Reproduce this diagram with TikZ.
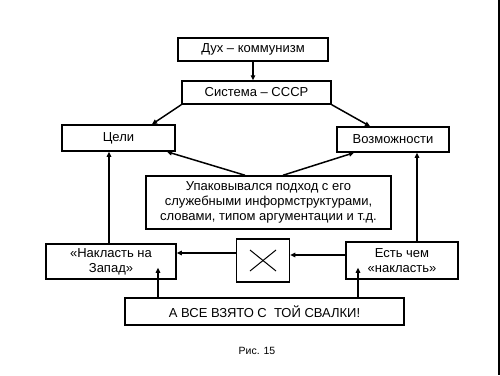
\documentclass[tikz,border=0pt]{standalone}
\usepackage{fontspec}
\setmainfont{Liberation Sans}
\usetikzlibrary{arrows.meta, calc}

\begin{document}
\begin{tikzpicture}[x=1pt, y=-1pt, line width=1.5pt,
    box/.style={draw, inner sep=0pt, align=center, font=\fontsize{13}{15}\selectfont},
    link/.style={-{Triangle[length=5pt, width=4.5pt]}}]

    % --- PAGE FRAME ---
    \useasboundingbox (0,0) rectangle (500,375);
    \fill (498,0) rectangle (500,375);

    % --- TOP CHAIN ---
    \node[box, minimum width=150pt, minimum height=23pt] (duh) at (253,49.5) {Дух – коммунизм};
    \node[box, minimum width=149pt, minimum height=23pt] (sistema) at (256.5,92.5) {Система – СССР};

    % --- SECOND ROW ---
    \node[box, minimum width=113pt, minimum height=26pt] (celi) at (118.5,138) {Цели};
    \node[box, minimum width=112pt, minimum height=25pt] (vozm) at (393,139.5) {Возможности};

    % --- MIDDLE BOX ---
    \node[box, minimum width=245pt, minimum height=53pt] (upak) at (268.5,202.5)
        {Упаковывался подход с его\\служебными информструктурами,\\словами, типом аргументации и т.д.};

    % --- BOTTOM ROW ---
    \node[box, minimum width=130pt, minimum height=35pt] (zapad) at (111,261.5) {«Накласть на\\Запад»};
    \node[box, minimum width=53pt, minimum height=43pt] (cross) at (263,260.5) {};
    \node[box, minimum width=112pt, minimum height=37pt] (est) at (402,260.5) {Есть чем\\«накласть»};
    \node[box, minimum width=279pt, minimum height=27pt] (vse) at (264.5,311.5) {А ВСЕ ВЗЯТО С \ ТОЙ СВАЛКИ!};

    % --- CAPTION ---
    \node[font=\fontsize{10.5}{12}\selectfont] (ris) at (257,351) {Рис. 15};

    % --- CROSS MARK ---
    \draw[line width=1pt] ($(cross.center)+(-13,-10.5)$) -- ($(cross.center)+(13,10.5)$);
    \draw[line width=1pt] ($(cross.center)+(-13,10.5)$) -- ($(cross.center)+(13,-10.5)$);

    % --- ARROWS ---
    \draw[link] (duh.south) -- (duh.south |- sistema.north);
    \draw[link] (sistema.south west) -- (celi.north -| 152,0);
    \draw[link] (sistema.south east) -- (vozm.north -| 370,0);
    \draw[link] (upak.north -| 245,0) -- (celi.south -| 167,0);
    \draw[link] (upak.north -| 283,0) -- (vozm.south -| 354,0);
    \draw[link] (zapad.north -| 109,0) -- (celi.south -| 109,0);
    \draw[link] (est.north -| 417,0) -- (vozm.south -| 417,0);
    \draw[link] (est.west |- 0,255) -- (cross.east |- 0,255);
    \draw[link] (cross.west |- 0,253) -- (zapad.east |- 0,253);
    \draw[link] (vse.north -| 158,0) -- ($(zapad.south -| 158,0)+(0,-12)$);
    \draw[link] (vse.north -| 358,0) -- ($(est.south -| 358,0)+(0,-12)$);

\end{tikzpicture}
\end{document}
